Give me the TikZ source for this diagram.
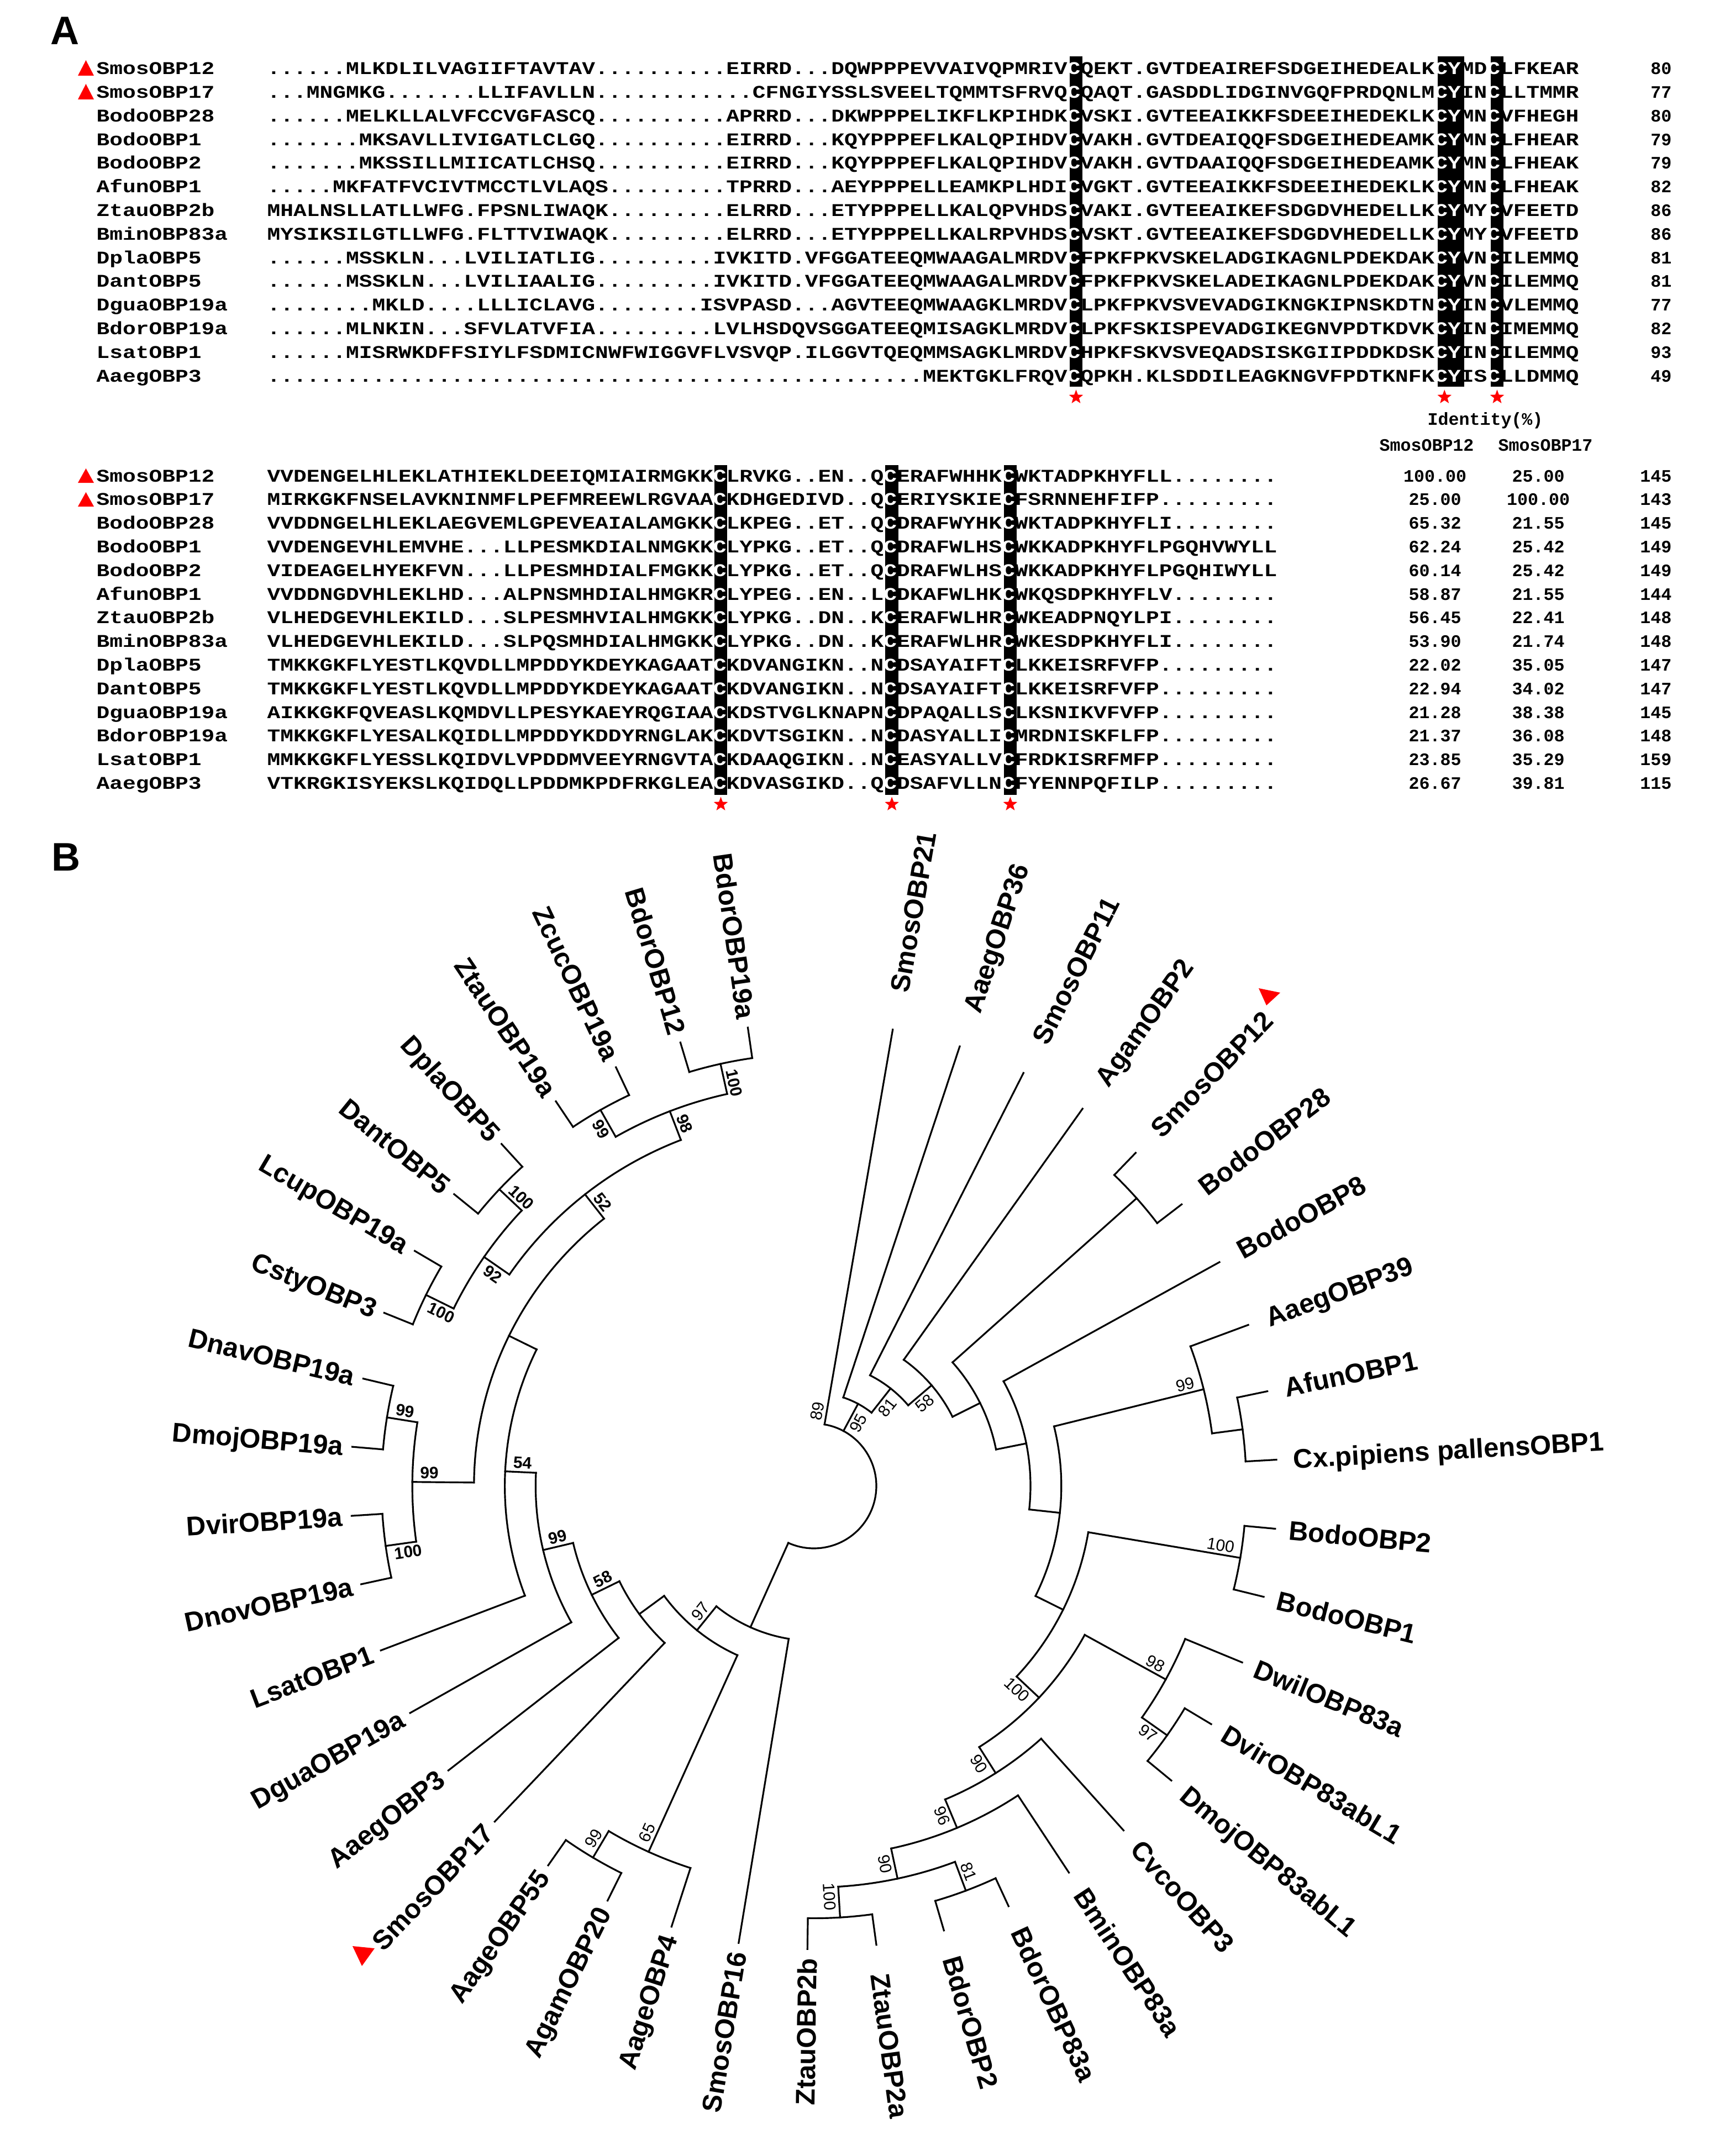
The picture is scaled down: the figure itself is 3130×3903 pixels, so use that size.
\documentclass[tikz,border=0pt]{standalone}
\usepackage{fontspec}
\usetikzlibrary{shapes.geometric}
\newfontfamily\seqfont[FakeStretch=1.22]{Liberation Mono}
\newfontfamily\monof{Liberation Mono}
\newfontfamily\sansf{Liberation Sans}
\newcommand\W[1]{\textcolor{white}{#1}}
\def\cw{23.8125}
\tikzset{
 seqtxt/.style={anchor=base west, inner sep=0pt, font=\seqfont\bfseries\fontsize{9.22}{10}\selectfont},
 numtxt/.style={inner sep=0pt, font=\monof\bfseries\fontsize{9}{10}\selectfont},
 redstar/.style={star, star points=5, star point ratio=2.4, fill=red, draw=none, minimum size=0.27cm, inner sep=0pt},
 branch/.style={line width=0.9pt, line cap=rect},
 leaflab/.style={inner sep=0pt, text height=10pt, text depth=0pt, font=\sansf\bfseries\fontsize{13.9}{16}\selectfont},
 bsl/.style={inner sep=1.5pt, font=\sansf\fontsize{8.5}{10}\selectfont},
 bsb/.style={inner sep=1.5pt, font=\sansf\bfseries\fontsize{8.5}{10}\selectfont},
 panel/.style={inner sep=0pt, font=\sansf\bfseries\fontsize{20.5}{24}\selectfont},
}
\newcommand\TopRow[7]{%
  \pgfmathsetmacro\yb{-(134.7+42.8*#1)}%
  \node[seqtxt] (tnm#1) at (174,\yb) {#2};
  \node[seqtxt] (tsq#1) at (483,\yb) {#3\W{C}#4\W{C}\W{Y}#5\W{C}#6};
  \node[numtxt, anchor=base east] (tln#1) at (3026,\yb) {#7};}
\newcommand\BotRow[9]{%
  \pgfmathsetmacro\yb{-(872+42.8*#1)}%
  \node[seqtxt] (bnm#1) at (174,\yb) {#2};
  \node[seqtxt] (bsq#1) at (483,\yb) {#3\W{C}#4\W{C}#5\W{C}#6};
  \node[numtxt, anchor=base] (bia#1) at (2597,\yb) {#7};
  \node[numtxt, anchor=base] (bib#1) at (2784,\yb) {#8};
  \node[numtxt, anchor=base east] (bln#1) at (3026,\yb) {#9};}
\newcommand\Leaf[2]{%
  \pgfmathsetmacro\la{80.2-8.55*(#1-1)}%
  \coordinate (L#1) at (\la:838.4);%
  \ifdim\la pt>-90pt
    \pgfmathsetmacro\lg{838.4+ifthenelse(\la>0,30+40*sin(\la)*sin(\la),25+28*sin(\la)*sin(\la)*sin(\la)*sin(\la))}%
    \node[leaflab, rotate=\la, anchor=west] (T#1) at (\la:\lg) {#2};%
  \else
    \pgfmathsetmacro\lr{\la+180}%
    \node[leaflab, rotate=\lr, anchor=east] (T#1) at (\la:854.4) {#2};%
  \fi}
\newcommand\Arc[3]{\draw[branch] (#2:#1) arc[start angle=#2, end angle=#3, radius=#1*0.01cm];}
\newcommand\St[3]{\draw[branch] (#1:#2) -- (#3);}
\newcommand\BS[7]{\node[#7, rotate=#4, anchor=#5] (#1) at (#2:#3) {#6};}
\begin{document}
\begin{tikzpicture}[x=0.01cm, y=0.01cm]
\useasboundingbox (0,0) rectangle (3130,-3903);
\fill[white] (0,0) rectangle (3130,-3903);
% ---------------- panel A ----------------
\node[panel] (labA) at (118,-56) {A};
\node[panel] (labB) at (120,-1552) {B};
% conserved columns
\foreach \c in {61,89,90,93}{\fill[black] ({483+\c*\cw},-102) rectangle ({483+(\c+1)*\cw},-700);}
\foreach \c in {34,47,56}{\fill[black] ({483+\c*\cw},-842) rectangle ({483+(\c+1)*\cw},-1439);}
\TopRow{0}{SmosOBP12}{......MLKDLILVAGIIFTAVTAV..........EIRRD...DQWPPPEVVAIVQPMRIV}{QEKT.GVTDEAIREFSDGEIHEDEALK}{MD}{LFKEAR}{80}
\TopRow{1}{SmosOBP17}{...MNGMKG.......LLIFAVLLN............CFNGIYSSLSVEELTQMMTSFRVQ}{QAQT.GASDDLIDGINVGQFPRDQNLM}{IN}{LLTMMR}{77}
\TopRow{2}{BodoOBP28}{......MELKLLALVFCCVGFASCQ..........APRRD...DKWPPPELIKFLKPIHDK}{VSKI.GVTEEAIKKFSDEEIHEDEKLK}{MN}{VFHEGH}{80}
\TopRow{3}{BodoOBP1}{.......MKSAVLLIVIGATLCLGQ..........EIRRD...KQYPPPEFLKALQPIHDV}{VAKH.GVTDEAIQQFSDGEIHEDEAMK}{MN}{LFHEAR}{79}
\TopRow{4}{BodoOBP2}{.......MKSSILLMIICATLCHSQ..........EIRRD...KQYPPPEFLKALQPIHDV}{VAKH.GVTDAAIQQFSDGEIHEDEAMK}{MN}{LFHEAK}{79}
\TopRow{5}{AfunOBP1}{.....MKFATFVCIVTMCCTLVLAQS.........TPRRD...AEYPPPELLEAMKPLHDI}{VGKT.GVTEEAIKKFSDEEIHEDEKLK}{MN}{LFHEAK}{82}
\TopRow{6}{ZtauOBP2b}{MHALNSLLATLLWFG.FPSNLIWAQK.........ELRRD...ETYPPPELLKALQPVHDS}{VAKI.GVTEEAIKEFSDGDVHEDELLK}{MY}{VFEETD}{86}
\TopRow{7}{BminOBP83a}{MYSIKSILGTLLWFG.FLTTVIWAQK.........ELRRD...ETYPPPELLKALRPVHDS}{VSKT.GVTEEAIKEFSDGDVHEDELLK}{MY}{VFEETD}{86}
\TopRow{8}{DplaOBP5}{......MSSKLN...LVILIATLIG.........IVKITD.VFGGATEEQMWAAGALMRDV}{FPKFPKVSKELADGIKAGNLPDEKDAK}{VN}{ILEMMQ}{81}
\TopRow{9}{DantOBP5}{......MSSKLN...LVILIAALIG.........IVKITD.VFGGATEEQMWAAGALMRDV}{FPKFPKVSKELADEIKAGNLPDEKDAK}{VN}{ILEMMQ}{81}
\TopRow{10}{DguaOBP19a}{........MKLD....LLLICLAVG........ISVPASD...AGVTEEQMWAAGKLMRDV}{LPKFPKVSVEVADGIKNGKIPNSKDTN}{IN}{VLEMMQ}{77}
\TopRow{11}{BdorOBP19a}{......MLNKIN...SFVLATVFIA.........LVLHSDQVSGGATEEQMISAGKLMRDV}{LPKFSKISPEVADGIKEGNVPDTKDVK}{IN}{IMEMMQ}{82}
\TopRow{12}{LsatOBP1}{......MISRWKDFFSIYLFSDMICNWFWIGGVFLVSVQP.ILGGVTQEQMMSAGKLMRDV}{HPKFSKVSVEQADSISKGIIPDDKDSK}{IN}{ILEMMQ}{93}
\TopRow{13}{AaegOBP3}{..................................................MEKTGKLFRQV}{QPKH.KLSDDILEAGKNGVFPDTKNFK}{IS}{LLDMMQ}{49}
\foreach \c/\n in {61/s1,89/s2,93/s3}{\node[redstar] (\n) at ({483+(\c+0.5)*\cw},-719) {};}
\node[numtxt, anchor=base] (idh) at (2688,-769) {Identity(\%)};
\node[numtxt, anchor=base] (idh1) at (2582,-816) {SmosOBP12};
\node[numtxt, anchor=base] (idh2) at (2797,-816) {SmosOBP17};
\BotRow{0}{SmosOBP12}{VVDENGELHLEKLATHIEKLDEEIQMIAIRMGKK}{LRVKG..EN..Q}{ERAFWHHK}{WKTADPKHYFLL........}{100.00}{25.00}{145}
\BotRow{1}{SmosOBP17}{MIRKGKFNSELAVKNINMFLPEFMREEWLRGVAA}{KDHGEDIVD..Q}{ERIYSKIE}{FSRNNEHFIFP.........}{25.00}{100.00}{143}
\BotRow{2}{BodoOBP28}{VVDDNGELHLEKLAEGVEMLGPEVEAIALAMGKK}{LKPEG..ET..Q}{DRAFWYHK}{WKTADPKHYFLI........}{65.32}{21.55}{145}
\BotRow{3}{BodoOBP1}{VVDENGEVHLEMVHE...LLPESMKDIALNMGKK}{LYPKG..ET..Q}{DRAFWLHS}{WKKADPKHYFLPGQHVWYLL}{62.24}{25.42}{149}
\BotRow{4}{BodoOBP2}{VIDEAGELHYEKFVN...LLPESMHDIALFMGKK}{LYPKG..ET..Q}{DRAFWLHS}{WKKADPKHYFLPGQHIWYLL}{60.14}{25.42}{149}
\BotRow{5}{AfunOBP1}{VVDDNGDVHLEKLHD...ALPNSMHDIALHMGKR}{LYPEG..EN..L}{DKAFWLHK}{WKQSDPKHYFLV........}{58.87}{21.55}{144}
\BotRow{6}{ZtauOBP2b}{VLHEDGEVHLEKILD...SLPESMHVIALHMGKK}{LYPKG..DN..K}{ERAFWLHR}{WKEADPNQYLPI........}{56.45}{22.41}{148}
\BotRow{7}{BminOBP83a}{VLHEDGEVHLEKILD...SLPQSMHDIALHMGKK}{LYPKG..DN..K}{ERAFWLHR}{WKESDPKHYFLI........}{53.90}{21.74}{148}
\BotRow{8}{DplaOBP5}{TMKKGKFLYESTLKQVDLLMPDDYKDEYKAGAAT}{KDVANGIKN..N}{DSAYAIFT}{LKKEISRFVFP.........}{22.02}{35.05}{147}
\BotRow{9}{DantOBP5}{TMKKGKFLYESTLKQVDLLMPDDYKDEYKAGAAT}{KDVANGIKN..N}{DSAYAIFT}{LKKEISRFVFP.........}{22.94}{34.02}{147}
\BotRow{10}{DguaOBP19a}{AIKKGKFQVEASLKQMDVLLPESYKAEYRQGIAA}{KDSTVGLKNAPN}{DPAQALLS}{LKSNIKVFVFP.........}{21.28}{38.38}{145}
\BotRow{11}{BdorOBP19a}{TMKKGKFLYESALKQIDLLMPDDYKDDYRNGLAK}{KDVTSGIKN..N}{DASYALLI}{MRDNISKFLFP.........}{21.37}{36.08}{148}
\BotRow{12}{LsatOBP1}{MMKKGKFLYESSLKQIDVLVPDDMVEEYRNGVTA}{KDAAQGIKN..N}{EASYALLV}{FRDKISRFMFP.........}{23.85}{35.29}{159}
\BotRow{13}{AaegOBP3}{VTKRGKISYEKSLKQIDQLLPDDMKPDFRKGLEA}{KDVASGIKD..Q}{DSAFVLLN}{FYENNPQFILP.........}{26.67}{39.81}{115}
\foreach \c/\n in {34/s4,47/s5,56/s6}{\node[redstar] (\n) at ({483+(\c+0.5)*\cw},-1456) {};}
% red triangles panel A
\fill[red] (141,-137) -- (170,-137) -- (155.5,-109) -- cycle;
\fill[red] (141,-180) -- (170,-180) -- (155.5,-152) -- cycle;
\fill[red] (141,-874) -- (170,-874) -- (155.5,-848) -- cycle;
\fill[red] (141,-917) -- (170,-917) -- (155.5,-891) -- cycle;
% ---------------- panel B ----------------
\begin{scope}[shift={(1473,-2690)}]
\Leaf{1}{SmosOBP21}
\Leaf{2}{AaegOBP36}
\Leaf{3}{SmosOBP11}
\Leaf{4}{AgamOBP2}
\Leaf{5}{SmosOBP12}
\Leaf{6}{BodoOBP28}
\Leaf{7}{BodoOBP8}
\Leaf{8}{AaegOBP39}
\Leaf{9}{AfunOBP1}
\Leaf{10}{Cx.pipiens pallensOBP1}
\Leaf{11}{BodoOBP2}
\Leaf{12}{BodoOBP1}
\Leaf{13}{DwilOBP83a}
\Leaf{14}{DvirOBP83abL1}
\Leaf{15}{DmojOBP83abL1}
\Leaf{16}{CvcoOBP3}
\Leaf{17}{BminOBP83a}
\Leaf{18}{BdorOBP83a}
\Leaf{19}{BdorOBP2}
\Leaf{20}{ZtauOBP2a}
\Leaf{21}{ZtauOBP2b}
\Leaf{22}{SmosOBP16}
\Leaf{23}{AageOBP4}
\Leaf{24}{AgamOBP20}
\Leaf{25}{AageOBP55}
\Leaf{26}{SmosOBP17}
\Leaf{27}{AaegOBP3}
\Leaf{28}{DguaOBP19a}
\Leaf{29}{LsatOBP1}
\Leaf{30}{DnovOBP19a}
\Leaf{31}{DvirOBP19a}
\Leaf{32}{DmojOBP19a}
\Leaf{33}{DnavOBP19a}
\Leaf{34}{CstyOBP3}
\Leaf{35}{LcupOBP19a}
\Leaf{36}{DantOBP5}
\Leaf{37}{DplaOBP5}
\Leaf{38}{ZtauOBP19a}
\Leaf{39}{ZcucOBP19a}
\Leaf{40}{BdorOBP12}
\Leaf{41}{BdorOBP19a}
% internal nodes
\coordinate (root) at (0,0);
\coordinate (n95) at (61.74:168.8);
\coordinate (n81R) at (51.82:224.6);
\coordinate (n58R) at (40.54:280.4);
\coordinate (N4) at (26.53:336.2);
\coordinate (nSB) at (41.725:782.6);
\coordinate (N5) at (11.33:392);
\coordinate (N6) at (-6.235:447.8);
\coordinate (n99R) at (13.94:726.8);
\coordinate (nAC) at (7.525:782.6);
\coordinate (N7) at (-26.41:503.6);
\coordinate (nBodo) at (-9.575:782.6);
\coordinate (N8) at (-43.24:559.4);
\coordinate (n98R) at (-28.81:726.8);
\coordinate (n97R) at (-35.225:782.6);
\coordinate (n90a) at (-57.67:615.2);
\coordinate (n96) at (-67.29:671);
\coordinate (n90b) at (-77.975:726.8);
\coordinate (n81B) at (-69.425:782.6);
\coordinate (n100Z) at (-86.525:782.6);
\coordinate (Nb1) at (-114.18:280.4);
\coordinate (n97L) at (-129.015:336.2);
\coordinate (n65) at (-114.31:726.8);
\coordinate (n99c) at (-120.725:782.6);
\coordinate (nU) at (-143.72:392);
\coordinate (n58L) at (-153.89:447.8);
\coordinate (n99L) at (-166.68:503.6);
\coordinate (n54) at (-182.71:559.4);
\coordinate (nX) at (-206.225:615.2);
\coordinate (n99big) at (-180.575:726.8);
\coordinate (n100D) at (-172.025:782.6);
\coordinate (n99D) at (-189.125:782.6);
\coordinate (n52) at (-231.875:671);
\coordinate (n92) at (-214.775:726.8);
\coordinate (n100C) at (-206.225:782.6);
\coordinate (n100DD) at (-223.325:782.6);
\coordinate (n98L) at (-248.975:726.8);
\coordinate (n99Z) at (-240.425:782.6);
\coordinate (n100B) at (-257.525:782.6);
% arcs
\Arc{113}{80.2}{-114.18}
\Arc{168.8}{71.65}{51.82}
\Arc{224.6}{63.1}{40.54}
\Arc{280.4}{54.55}{26.53}
\Arc{336.2}{41.725}{11.33}
\Arc{782.6}{46}{37.45}
\Arc{392}{28.9}{-6.235}
\Arc{447.8}{13.94}{-26.41}
\Arc{726.8}{20.35}{7.525}
\Arc{782.6}{11.8}{3.25}
\Arc{503.6}{-9.575}{-43.24}
\Arc{782.6}{-5.3}{-13.85}
\Arc{559.4}{-28.81}{-57.67}
\Arc{726.8}{-22.4}{-35.225}
\Arc{782.6}{-30.95}{-39.5}
\Arc{615.2}{-48.05}{-67.29}
\Arc{671}{-56.6}{-77.975}
\Arc{726.8}{-69.425}{-86.525}
\Arc{782.6}{-65.15}{-73.7}
\Arc{782.6}{-82.25}{-90.8}
\Arc{280.4}{-99.35}{-129.015}
\Arc{336.2}{-114.31}{-143.72}
\Arc{726.8}{-107.9}{-120.725}
\Arc{782.6}{-116.45}{-125}
\Arc{392}{-133.55}{-153.89}
\Arc{447.8}{-142.1}{-166.68}
\Arc{503.6}{-150.65}{-182.71}
\Arc{559.4}{-159.2}{-206.225}
\Arc{615.2}{-180.575}{-231.875}
\Arc{726.8}{-172.025}{-189.125}
\Arc{782.6}{-167.75}{-176.3}
\Arc{782.6}{-184.85}{-193.4}
\Arc{671}{-214.775}{-248.975}
\Arc{726.8}{-206.225}{-223.325}
\Arc{782.6}{-201.95}{-210.5}
\Arc{782.6}{-219.05}{-227.6}
\Arc{726.8}{-240.425}{-257.525}
\Arc{782.6}{-236.15}{-244.7}
\Arc{782.6}{-253.25}{-261.8}
% stems
\St{80.2}{113}{L1}
\St{61.74}{113}{n95}
\St{-114.18}{113}{Nb1}
\St{71.65}{168.8}{L2}
\St{51.82}{168.8}{n81R}
\St{63.1}{224.6}{L3}
\St{40.54}{224.6}{n58R}
\St{54.55}{280.4}{L4}
\St{26.53}{280.4}{N4}
\St{41.725}{336.2}{nSB}
\St{11.33}{336.2}{N5}
\St{46}{782.6}{L5}
\St{37.45}{782.6}{L6}
\St{28.9}{392}{L7}
\St{-6.235}{392}{N6}
\St{13.94}{447.8}{n99R}
\St{-26.41}{447.8}{N7}
\St{20.35}{726.8}{L8}
\St{7.525}{726.8}{nAC}
\St{11.8}{782.6}{L9}
\St{3.25}{782.6}{L10}
\St{-9.575}{503.6}{nBodo}
\St{-43.24}{503.6}{N8}
\St{-5.3}{782.6}{L11}
\St{-13.85}{782.6}{L12}
\St{-28.81}{559.4}{n98R}
\St{-57.67}{559.4}{n90a}
\St{-22.4}{726.8}{L13}
\St{-35.225}{726.8}{n97R}
\St{-30.95}{782.6}{L14}
\St{-39.5}{782.6}{L15}
\St{-48.05}{615.2}{L16}
\St{-67.29}{615.2}{n96}
\St{-56.6}{671}{L17}
\St{-77.975}{671}{n90b}
\St{-69.425}{726.8}{n81B}
\St{-86.525}{726.8}{n100Z}
\St{-65.15}{782.6}{L18}
\St{-73.7}{782.6}{L19}
\St{-82.25}{782.6}{L20}
\St{-90.8}{782.6}{L21}
\St{-99.35}{280.4}{L22}
\St{-129.015}{280.4}{n97L}
\St{-114.31}{336.2}{n65}
\St{-143.72}{336.2}{nU}
\St{-107.9}{726.8}{L23}
\St{-120.725}{726.8}{n99c}
\St{-116.45}{782.6}{L24}
\St{-125}{782.6}{L25}
\St{-133.55}{392}{L26}
\St{-153.89}{392}{n58L}
\St{-142.1}{447.8}{L27}
\St{-166.68}{447.8}{n99L}
\St{-150.65}{503.6}{L28}
\St{-182.71}{503.6}{n54}
\St{-159.2}{559.4}{L29}
\St{-206.225}{559.4}{nX}
\St{-180.575}{615.2}{n99big}
\St{-231.875}{615.2}{n52}
\St{-172.025}{726.8}{n100D}
\St{-189.125}{726.8}{n99D}
\St{-167.75}{782.6}{L30}
\St{-176.3}{782.6}{L31}
\St{-184.85}{782.6}{L32}
\St{-193.4}{782.6}{L33}
\St{-214.775}{671}{n92}
\St{-248.975}{671}{n98L}
\St{-206.225}{726.8}{n100C}
\St{-223.325}{726.8}{n100DD}
\St{-201.95}{782.6}{L34}
\St{-210.5}{782.6}{L35}
\St{-219.05}{782.6}{L36}
\St{-227.6}{782.6}{L37}
\St{-240.425}{726.8}{n99Z}
\St{-257.525}{726.8}{n100B}
\St{-236.15}{782.6}{L38}
\St{-244.7}{782.6}{L39}
\St{-253.25}{782.6}{L40}
\St{-261.8}{782.6}{L41}
% bootstrap values
\BS{b89}{80.2}{112}{80.2}{south west}{89}{bsl}
\BS{b95}{61.74}{160.8}{61.74}{north east}{95}{bsl}
\BS{b81r}{51.82}{216.6}{51.82}{north east}{81}{bsl}
\BS{b58r}{40.54}{272.4}{40.54}{north east}{58}{bsl}
\BS{b99r}{13.94}{718.8}{13.94}{south east}{99}{bsl}
\BS{b100o}{-9.575}{774.6}{-9.575}{south east}{100}{bsl}
\BS{b100e}{-43.24}{551.4}{-43.24}{north east}{100}{bsl}
\BS{b98r}{-28.81}{718.8}{-28.81}{south east}{98}{bsl}
\BS{b97r}{-35.225}{774.6}{-35.225}{north east}{97}{bsl}
\BS{b90a}{-57.67}{607.2}{-57.67}{north east}{90}{bsl}
\BS{b96}{-67.29}{663}{-67.29}{north east}{96}{bsl}
\BS{b90b}{-77.975}{718.8}{-77.975}{north east}{90}{bsl}
\BS{b81b}{-69.425}{774.6}{-69.425}{south east}{81}{bsl}
\BS{b100z}{-86.525}{774.6}{-86.525}{north east}{100}{bsl}
\BS{b97l}{-129.015}{328.2}{50.985}{south west}{97}{bsl}
\BS{b65}{-114.31}{718.8}{65.69}{south west}{65}{bsl}
\BS{b99c}{-120.725}{774.6}{59.275}{south west}{99}{bsl}
\BS{b58l}{-153.89}{439.8}{26.11}{south west}{58}{bsb}
\BS{b99l}{-166.68}{495.6}{13.32}{south west}{99}{bsb}
\BS{b54}{-182.71}{551.4}{-2.71}{south west}{54}{bsb}
\BS{b99g}{-180.575}{718.8}{-0.575}{south west}{99}{bsb}
\BS{b99d}{-189.125}{774.6}{-9.125}{south west}{99}{bsb}
\BS{b100d}{-172.025}{774.6}{7.975}{north west}{100}{bsb}
\BS{b52}{-231.875}{663}{-51.875}{south west}{52}{bsb}
\BS{b92}{-214.775}{718.8}{-34.775}{north west}{92}{bsb}
\BS{b100c}{-206.225}{774.6}{-26.225}{north west}{100}{bsb}
\BS{b100dd}{-223.325}{774.6}{-43.325}{south west}{100}{bsb}
\BS{b98l}{-248.975}{718.8}{-68.975}{south west}{98}{bsb}
\BS{b99z}{-240.425}{774.6}{-60.425}{north west}{99}{bsb}
\BS{b100b}{-257.525}{774.6}{-77.525}{south west}{100}{bsb}
\end{scope}
% red markers in tree
\fill[red] (2278,-1789) -- (2317,-1797) -- (2292,-1820) -- cycle;
\fill[red] (638,-3523) -- (678,-3527) -- (655,-3559) -- cycle;
\end{tikzpicture}
\end{document}
